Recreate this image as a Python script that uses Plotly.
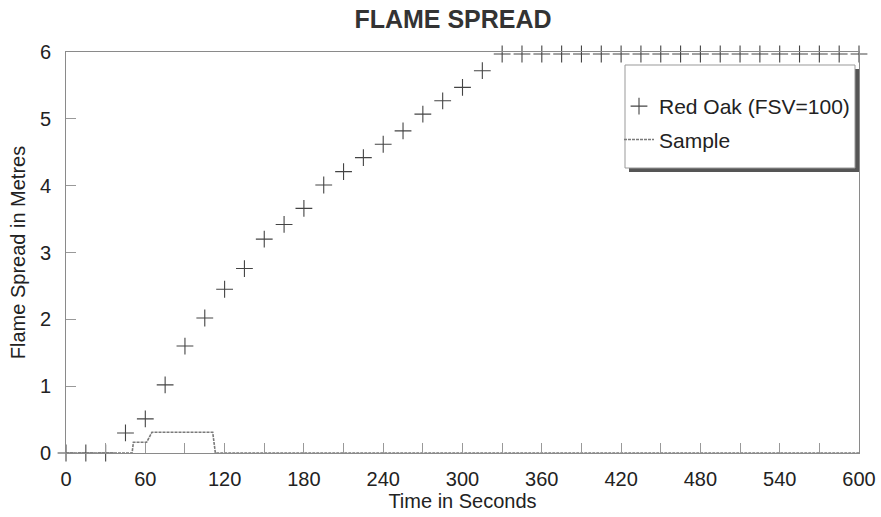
import plotly.graph_objects as go

# ---- data ----
time_oak = [0, 15, 30, 45, 60, 75, 90, 105, 120, 135, 150, 165, 180, 195, 210,
            225, 240, 255, 270, 285, 300, 315, 330, 345, 360, 375, 390, 405,
            420, 435, 450, 465, 480, 495, 510, 525, 540, 555, 570, 585, 600]
red_oak = [0, 0, 0, 0.30, 0.51, 1.02, 1.60, 2.02, 2.45, 2.76, 3.20, 3.42, 3.66,
           4.01, 4.21, 4.42, 4.62, 4.82, 5.07, 5.27, 5.47, 5.72, 5.97, 5.97,
           5.97, 5.97, 5.97, 5.97, 5.97, 5.97, 5.97, 5.97, 5.97, 5.97, 5.97,
           5.97, 5.97, 5.97, 5.97, 5.97, 5.97]
time_sample = [0, 50, 51, 61, 65, 111, 113, 600]
sample = [0, 0, 0.16, 0.16, 0.31, 0.31, 0, 0]

x_ticks = [0, 60, 120, 180, 240, 300, 360, 420, 480, 540, 600]
y_ticks = [0, 1, 2, 3, 4, 5, 6]

# ---- layout constants ----
W, H = 881, 517
ML, MR, MT, MB = 66, 22, 52, 64
PW, PH = W - ML - MR, H - MT - MB


def px_x(p):
    return (p - ML) / PW


def px_y(p):
    return (H - MB - p) / PH


FONT = "Liberation Sans, Arial, sans-serif"

fig = go.Figure()
fig.add_trace(go.Scatter(
    x=time_oak, y=red_oak, mode="markers", name="Red Oak (FSV=100)",
    marker=dict(symbol="cross-thin", size=12, color="#444",
                line=dict(width=1.1, color="#444")),
    cliponaxis=False, legendgroup="a"))
fig.add_trace(go.Scatter(
    x=time_sample, y=sample, mode="lines", name="Sample",
    line=dict(color="#7a7a7a", width=1.6, dash="3px,1px"),
    legendgroup="b"))

axis_common = dict(
    showline=True, linecolor="#8a8a8a", linewidth=1, mirror=True,
    showgrid=False, zeroline=False, ticks="inside", ticklen=10,
    tickcolor="#999", tickwidth=1, automargin=False,
    tickfont=dict(family=FONT, size=20, color="#222"),
)

fig.update_layout(
    width=W, height=H,
    margin=dict(l=ML, r=MR, t=MT, b=MB, autoexpand=False),
    paper_bgcolor="white", plot_bgcolor="white",
    font=dict(family=FONT, size=20, color="#222"),
    title=dict(text="<b>FLAME SPREAD</b>", font=dict(family=FONT, size=25, color="#333"),
               xref="container", x=453 / W, xanchor="center",
               yref="container", y=1 - 19 / H, yanchor="middle"),
    xaxis=dict(range=[0, 600], tickvals=x_ticks, ticktext=[str(v) for v in x_ticks],
               ticklabelstandoff=8,
               minor=dict(dtick=30, tick0=0, ticks="inside", ticklen=10, tickcolor="#999"),
               title=dict(text="Time in Seconds", font=dict(family=FONT, size=20, color="#222"),
                          standoff=4),
               **axis_common),
    yaxis=dict(range=[0, 6], tickvals=y_ticks, ticktext=[str(v) for v in y_ticks],
               ticklabelstandoff=10,
               title=dict(text="Flame Spread in Metres", font=dict(family=FONT, size=20, color="#222"),
                          standoff=8),
               **axis_common),
    legend=dict(x=px_x(619), y=px_y(86), xanchor="left", yanchor="top",
                bgcolor="rgba(0,0,0,0)", borderwidth=0,
                traceorder="grouped", tracegroupgap=3,
                font=dict(family=FONT, size=21, color="#222")),
    shapes=[
        dict(type="rect", xref="paper", yref="paper", layer="above",
             x0=px_x(629), x1=px_x(859), y0=px_y(172), y1=px_y(69),
             fillcolor="#555", line=dict(width=0)),
        dict(type="rect", xref="paper", yref="paper", layer="above",
             x0=px_x(625), x1=px_x(855), y0=px_y(168), y1=px_y(65),
             fillcolor="white", line=dict(width=1, color="#999")),
    ],
)

fig.write_html("out.html")
